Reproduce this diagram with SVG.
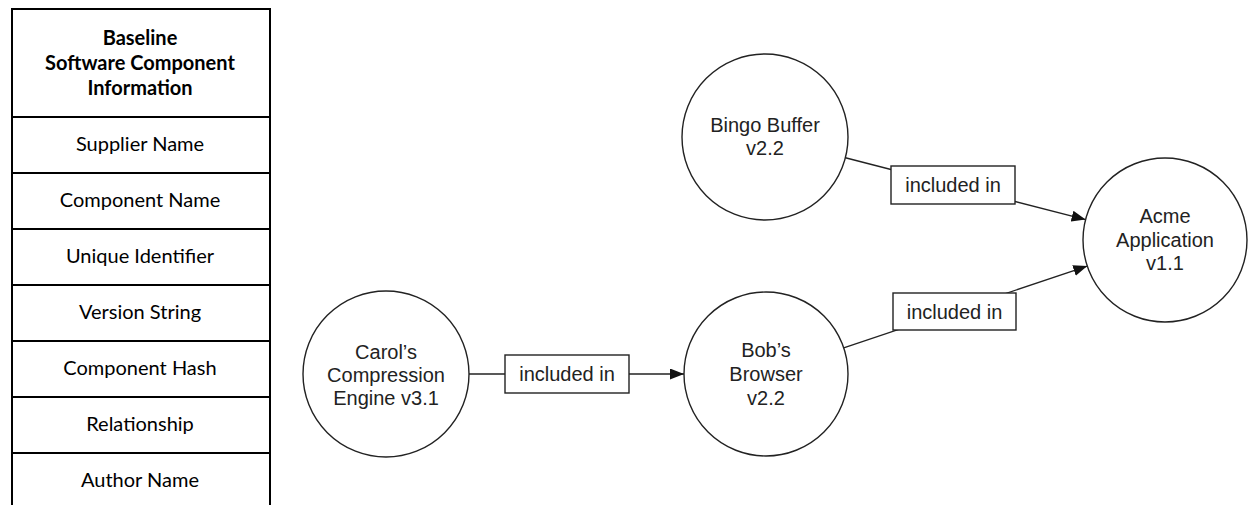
<svg xmlns="http://www.w3.org/2000/svg" width="1248" height="505" viewBox="0 0 1248 505">
<style>
.tbl{stroke:#000;stroke-width:2;fill:none}
.tt{font-family:Lato,"Liberation Sans",sans-serif;font-size:20px;fill:#000;text-anchor:middle}
.th{font-weight:bold}
.node{fill:#fff;stroke:#222;stroke-width:1.4}
.nt{font-family:"Liberation Sans",Arial,sans-serif;font-size:20px;fill:#222;text-anchor:middle}
.edge{stroke:#222;stroke-width:1.4;fill:none}
.lbl{fill:#fff;stroke:#222;stroke-width:1.4}
</style>
<defs>
<marker id="arr" markerUnits="userSpaceOnUse" markerWidth="14" markerHeight="11" refX="14" refY="5.5" orient="auto">
<path d="M0,0 L14,5.5 L0,11 Z" fill="#111"/>
</marker>
</defs>
<rect width="1248" height="505" fill="#fff"/>
<g id="table">
<path class="tbl" d="M12,520 V9 H270 V520 M12,117 H270 M12,173 H270 M12,229 H270 M12,285 H270 M12,341 H270 M12,397 H270 M12,453 H270"/>
<text class="tt th" x="140" y="45">Baseline</text>
<text class="tt th" x="140" y="70">Software Component</text>
<text class="tt th" x="140" y="95">Information</text>
<text class="tt" x="140" y="151">Supplier Name</text>
<text class="tt" x="140" y="207">Component Name</text>
<text class="tt" x="140" y="263">Unique Identifier</text>
<text class="tt" x="140" y="319">Version String</text>
<text class="tt" x="140" y="375">Component Hash</text>
<text class="tt" x="140" y="431">Relationship</text>
<text class="tt" x="140" y="487">Author Name</text>
</g>
<g id="connectors">
<line class="edge" x1="469" y1="374" x2="684" y2="374" marker-end="url(#arr)"/>
<line class="edge" x1="845.4" y1="157.7" x2="1085.6" y2="219.6" marker-end="url(#arr)"/>
<line class="edge" x1="843.7" y1="347.9" x2="1087.3" y2="266.1" marker-end="url(#arr)"/>
<rect class="lbl" x="505" y="355" width="124" height="38"/>
<text class="nt" x="567" y="381">included in</text>
<rect class="lbl" x="891" y="166" width="124" height="38"/>
<text class="nt" x="953" y="192">included in</text>
<rect class="lbl" x="893" y="293" width="123" height="37"/>
<text class="nt" x="954.5" y="318.5">included in</text>
</g>
<g id="carol">
<circle class="node" cx="386" cy="374" r="83"/>
<text class="nt" x="386" y="359">Carol’s</text>
<text class="nt" x="386" y="382">Compression</text>
<text class="nt" x="386" y="405">Engine v3.1</text>
</g>
<g id="bob">
<circle class="node" cx="766" cy="374" r="82"/>
<text class="nt" x="766" y="357">Bob’s</text>
<text class="nt" x="766" y="381">Browser</text>
<text class="nt" x="766" y="405">v2.2</text>
</g>
<g id="bingo">
<circle class="node" cx="765" cy="137" r="83"/>
<text class="nt" x="765" y="132">Bingo Buffer</text>
<text class="nt" x="765" y="155">v2.2</text>
</g>
<g id="acme">
<circle class="node" cx="1165" cy="240" r="82"/>
<text class="nt" x="1165" y="223">Acme</text>
<text class="nt" x="1165" y="247">Application</text>
<text class="nt" x="1165" y="270">v1.1</text>
</g>
</svg>
